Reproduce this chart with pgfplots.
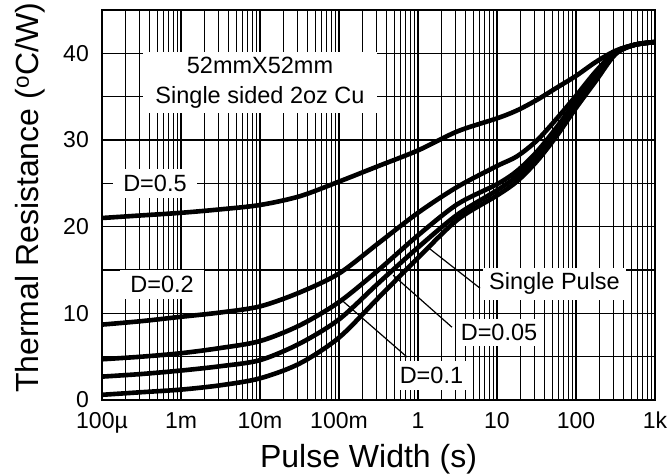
\documentclass[border=0pt]{standalone}
\usepackage{pgfplots}
\pgfplotsset{compat=1.18}
\usepackage{pgfplotstable}
\usepackage{fontspec}
\setmainfont{Liberation Sans}

% thermal resistance vs pulse width, one column per duty cycle
\pgfplotstableread{
x        d05   d02   d01   d005  sp
1e-4     21.0  8.7   4.7   2.7   0.6
3.162e-4 21.3  9.1   5.0   3.0   0.9
1e-3     21.6  9.6   5.4   3.4   1.2
3.162e-3 22.0  10.1  6.0   3.9   1.7
1e-2     22.5  10.8  6.8   4.6   2.5
3.162e-2 23.5  12.4  8.6   6.5   4.2
1e-1     25.2  14.6  11.3  9.3   7.2
3.162e-1 27.0  18.1  15.0  13.5  11.8
1        28.8  21.6  19.0  17.6  16.4
3.162    31.0  24.6  22.6  21.4  20.8
10       32.5  27.0  24.9  24.2  23.6
17.78    33.4  28.1  26.4  25.8  25.2
31.62    34.6  29.9  28.6  28.0  27.5
56.23    36.0  32.4  31.4  30.9  30.4
100      37.4  35.1  34.5  34.1  33.7
177.8    39.0  37.9  37.4  37.1  36.8
316.2    40.3  40.2  40.1  40.0  39.9
562.3    41.0  41.0  41.0  41.0  41.0
1000     41.3  41.3  41.3  41.3  41.3
}\zth

\newcommand\tfont{\fontsize{23}{23}\selectfont}
\newcommand\lfont{\fontsize{23.5}{30}\selectfont}

\begin{document}
\begin{tikzpicture}
\path[use as bounding box] (-102pt,-75pt) rectangle (569pt,400pt);
\begin{axis}[
  at={(0,0)}, anchor=south west,
  width=553pt, height=390pt, scale only axis,
  xmode=log, xmin=1e-4, xmax=1e3, ymin=0, ymax=45,
  xtick={1e-4,1e-3,1e-2,1e-1,1,10,100,1000},
  xticklabels={100µ,1m,10m,100m,1,10,100,1k},
  minor xtick={2e-4,3e-4,4e-4,5e-4,6e-4,7e-4,8e-4,9e-4,
    2e-3,3e-3,4e-3,5e-3,6e-3,7e-3,8e-3,9e-3,
    2e-2,3e-2,4e-2,5e-2,6e-2,7e-2,8e-2,9e-2,
    2e-1,3e-1,4e-1,5e-1,6e-1,7e-1,8e-1,9e-1,
    2,3,4,5,6,7,8,9,20,30,40,50,60,70,80,90,
    200,300,400,500,600,700,800,900},
  ytick={0,10,20,30,40},
  yticklabels={0,10,20,30,40},
  minor ytick={5,15,25,35},
  grid=both,
  major grid style={black, line width=1.2pt},
  minor grid style={black, line width=1.2pt},
  major tick length=0pt, minor tick length=0pt,
  axis line style={line width=2.5pt},
  xticklabel style={font=\tfont, anchor=base, yshift=-28pt},
  yticklabel style={font=\tfont, anchor=east, inner sep=0pt, xshift=-13pt},
  xlabel={Pulse Width (s)},
  ylabel={Thermal Resistance (\textsuperscript{o}C/W)},
  xlabel style={font=\fontsize{32}{32}\selectfont, at={(axis description cs:0.482,-0.1718)}, anchor=base},
  ylabel style={font=\fontsize{32}{32}\selectfont, at={(axis description cs:-0.1157,0.518)}, anchor=base},
  curve/.style={black, line width=4.6pt, smooth, no marks},
]
\addplot[curve] table[x=x, y=d05] {\zth};
\addplot[curve] table[x=x, y=d02] {\zth};
\addplot[curve] table[x=x, y=d01] {\zth};
\addplot[curve] table[x=x, y=d005] {\zth};
\addplot[curve] table[x=x, y=sp] {\zth};

\draw[line width=1.2pt] (axis cs:1.34,17.6) -- (axis cs:6.1,12.9);
\draw[line width=1.2pt] (axis cs:0.485,14.4) -- (axis cs:2.69,8.4);
\draw[line width=1.2pt] (axis cs:0.109,11.5) -- (axis cs:0.726,4.96);

\node[fill=white, align=center, font=\lfont, inner xsep=12pt, inner ysep=5pt] at (axis cs:0.01,36.6) {52mmX52mm\\Single sided 2oz Cu};
\node[fill=white, font=\lfont, inner xsep=10pt, inner ysep=6pt] at (axis cs:4.68e-4,25.0) {D=0.5};
\node[fill=white, font=\lfont, inner xsep=10pt, inner ysep=6pt] at (axis cs:5.75e-4,13.3) {D=0.2};
\node[fill=white, font=\lfont, inner xsep=6pt, inner ysep=5pt] at (axis cs:53.5,13.4) {Single Pulse};
\node[fill=white, font=\lfont, inner xsep=5pt, inner ysep=5pt] at (axis cs:10.6,7.8) {D=0.05};
\node[fill=white, font=\lfont, inner xsep=5pt, inner ysep=6pt] at (axis cs:1.48,2.83) {D=0.1};
\end{axis}
\end{tikzpicture}
\end{document}
